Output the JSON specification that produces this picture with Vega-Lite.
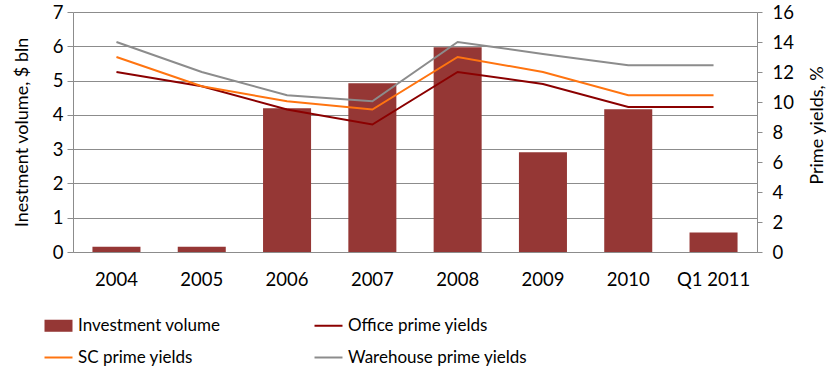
{
  "$schema": "https://vega.github.io/schema/vega-lite/v6.json",
  "autosize": "none",
  "width": 684,
  "height": 240,
  "padding": {"left": 73, "top": 12, "right": 69, "bottom": 117},
  "config": {
    "view": {"stroke": null},
    "font": "Lato",
    "axis": {"labelFont": "Lato", "titleFont": "Lato", "labelColor": "#000000", "titleColor": "#000000", "labelFontSize": 18.5, "titleFontSize": 18, "titleFontWeight": "normal", "domainColor": "#8c8c8c", "tickColor": "#8c8c8c", "gridColor": "#8c8c8c", "labelOverlap": false},
    "legend": {"labelFont": "Lato", "labelFontSize": 17, "labelColor": "#000000"}
  },
  "data": {"values": [
    {"period": "2004", "series": "Investment volume", "value": 0.15},
    {"period": "2005", "series": "Investment volume", "value": 0.15},
    {"period": "2006", "series": "Investment volume", "value": 4.19},
    {"period": "2007", "series": "Investment volume", "value": 4.92},
    {"period": "2008", "series": "Investment volume", "value": 5.97},
    {"period": "2009", "series": "Investment volume", "value": 2.91},
    {"period": "2010", "series": "Investment volume", "value": 4.16},
    {"period": "Q1 2011", "series": "Investment volume", "value": 0.57},
    {"period": "2004", "series": "Office prime yields", "value": 12.0},
    {"period": "2005", "series": "Office prime yields", "value": 11.05},
    {"period": "2006", "series": "Office prime yields", "value": 9.5},
    {"period": "2007", "series": "Office prime yields", "value": 8.5},
    {"period": "2008", "series": "Office prime yields", "value": 12.0},
    {"period": "2009", "series": "Office prime yields", "value": 11.2},
    {"period": "2010", "series": "Office prime yields", "value": 9.67},
    {"period": "Q1 2011", "series": "Office prime yields", "value": 9.67},
    {"period": "2004", "series": "SC prime yields", "value": 13.0},
    {"period": "2005", "series": "SC prime yields", "value": 11.05},
    {"period": "2006", "series": "SC prime yields", "value": 10.05},
    {"period": "2007", "series": "SC prime yields", "value": 9.5},
    {"period": "2008", "series": "SC prime yields", "value": 13.0},
    {"period": "2009", "series": "SC prime yields", "value": 12.0},
    {"period": "2010", "series": "SC prime yields", "value": 10.45},
    {"period": "Q1 2011", "series": "SC prime yields", "value": 10.45},
    {"period": "2004", "series": "Warehouse prime yields", "value": 14.0},
    {"period": "2005", "series": "Warehouse prime yields", "value": 12.0},
    {"period": "2006", "series": "Warehouse prime yields", "value": 10.45},
    {"period": "2007", "series": "Warehouse prime yields", "value": 10.05},
    {"period": "2008", "series": "Warehouse prime yields", "value": 14.0},
    {"period": "2009", "series": "Warehouse prime yields", "value": 13.2},
    {"period": "2010", "series": "Warehouse prime yields", "value": 12.45},
    {"period": "Q1 2011", "series": "Warehouse prime yields", "value": 12.45}
  ]},
  "encoding": {
    "x": {"field": "period", "type": "nominal", "sort": null,
      "scale": {"paddingInner": 0.437, "paddingOuter": 0.228},
      "axis": {"title": null, "labelAngle": 0, "ticks": false, "labelPadding": 18, "domainColor": "#8c8c8c", "grid": false}
    },
    "color": {"field": "series", "type": "nominal",
      "scale": {"domain": ["Investment volume", "Office prime yields", "SC prime yields", "Warehouse prime yields"], "range": ["#953735", "#8b0000", "#ff7410", "#8c8c8c"]},
      "legend": {"title": null, "orient": "none", "legendX": -23, "legendY": 305, "direction": "horizontal", "columns": 2, "columnPadding": 89, "rowPadding": 14, "symbolStrokeWidth": 2, "symbolSize": 784, "labelOffset": 11, "labelLimit": 400,
        "encode": {"symbols": {"update": {
          "shape": {"signal": "datum.value === 'Investment volume' ? 'M-1,-0.43H1V0.43H-1Z' : 'stroke'"},
          "fill": {"signal": "datum.value === 'Investment volume' ? '#953735' : 'transparent'"},
          "strokeWidth": {"signal": "datum.value === 'Investment volume' ? 0 : 2"}
        }}}
      }
    }
  },
  "layer": [
    {
      "transform": [{"filter": "datum.series === 'Investment volume'"}],
      "mark": {"type": "bar"},
      "encoding": {
        "y": {"field": "value", "type": "quantitative", "scale": {"domain": [0, 7], "nice": false},
          "axis": {"title": "Inestment volume, $ bln", "values": [0,1,2,3,4,5,6,7], "grid": true, "tickSize": 6, "labelPadding": 4, "titlePadding": 21}
        }
      }
    },
    {
      "transform": [{"filter": "datum.series !== 'Investment volume'"}],
      "mark": {"type": "line", "strokeWidth": 2},
      "encoding": {
        "y": {"field": "value", "type": "quantitative", "scale": {"domain": [0, 16], "nice": false},
          "axis": {"title": "Prime yields, %", "orient": "right", "values": [0,2,4,6,8,10,12,14,16], "grid": false, "tickSize": 5, "labelPadding": 10, "titleAngle": 270, "titlePadding": 33, "titleY": 113}
        }
      }
    }
  ],
  "resolve": {"scale": {"y": "independent"}}
}
